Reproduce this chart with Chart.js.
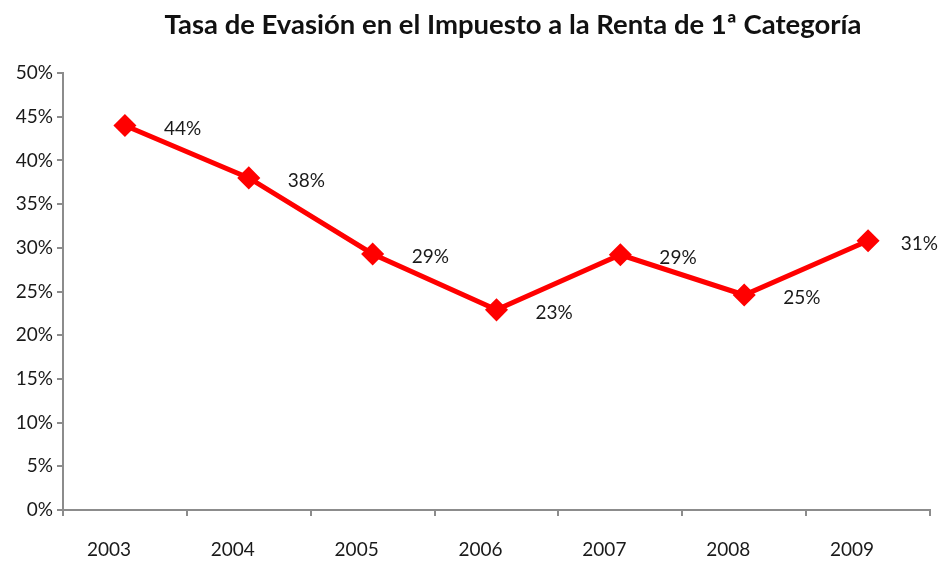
<!DOCTYPE html>
<html><head><meta charset="utf-8">
<script src="https://cdn.jsdelivr.net/npm/chart.js@4/dist/chart.umd.min.js"></script>
<style>html,body{margin:0;padding:0;background:#fff}#wrap{width:943px;height:563px}</style>
</head><body><div id="wrap"><canvas id="c" width="943" height="563"></canvas></div>
<script>
const titleText = "Tasa de Evasión en el Impuesto a la Renta de 1ª Categoría";
const years = ["2003","2004","2005","2006","2007","2008","2009"];
const evasion = [44, 38, 29.3, 22.9, 29.2, 24.6, 30.8];
const pointLabels = ["44%","38%","29%","23%","29%","25%","31%"];
const yTicks = [0,5,10,15,20,25,30,35,40,45,50];

const FONT = "Lato, 'Open Sans', sans-serif";

const textPlugin = {
  id: 'textPlugin',
  afterDraw(chart) {
    const ctx = chart.ctx;
    ctx.save();
    ctx.font = "bold 22px " + FONT;
    const w = ctx.measureText(titleText).width;
    const size = 22 * 697 / w;
    ctx.font = "bold " + size.toFixed(2) + "px " + FONT;
    ctx.fillStyle = "#111";
    ctx.textAlign = "center";
    ctx.textBaseline = "middle";
    ctx.fillText(titleText, 513, 25);
    const meta = chart.getDatasetMeta(0);
    ctx.font = "19px " + FONT;
    ctx.fillStyle = "#1a1a1a";
    ctx.textAlign = "left";
    meta.data.forEach((pt, i) => {
      const tw = ctx.measureText(pointLabels[i]).width;
      let x = pt.x + 39;
      if (x + tw > chart.width - 5) x = chart.width - 5 - tw;
      ctx.fillText(pointLabels[i], x, pt.y + 3);
    });
    ctx.restore();
  }
};

new Chart(document.getElementById('c'), {
  type: 'line',
  data: {
    labels: years,
    datasets: [{
      data: evasion,
      borderColor: '#ff0000',
      backgroundColor: '#ff0000',
      borderWidth: 5,
      pointStyle: 'rectRot',
      pointRadius: 8,
      pointHoverRadius: 8,
      tension: 0
    }]
  },
  options: {
    responsive: false,
    animation: false,
    devicePixelRatio: 1,
    layout: { padding: { left: 0, right: 11, top: 73, bottom: 0 } },
    plugins: {
      legend: { display: false },
      tooltip: { enabled: false },
      title: { display: false }
    },
    scales: {
      x: {
        type: 'category',
        offset: true,
        grid: { offset: true, drawOnChartArea: false, drawTicks: true, tickLength: 6, color: '#8c8c8c', lineWidth: 2 },
        border: { display: true, color: '#8c8c8c', width: 2 },
        ticks: { color: '#1a1a1a', font: { family: FONT, size: 19 }, padding: 22, labelOffset: -16, maxRotation: 0 },
        afterFit(s) { s.height = 53; }
      },
      y: {
        min: 0, max: 50,
        afterBuildTicks(s) { s.ticks = yTicks.map(v => ({ value: v })); },
        grid: { drawOnChartArea: false, drawTicks: true, tickLength: 6, color: '#8c8c8c', lineWidth: 2 },
        border: { display: true, color: '#8c8c8c', width: 2 },
        ticks: { color: '#1a1a1a', font: { family: FONT, size: 19 }, padding: 4, callback: v => v + '%' },
        afterFit(s) { s.width = 63; }
      }
    }
  },
  plugins: [textPlugin]
});
</script></body></html>
